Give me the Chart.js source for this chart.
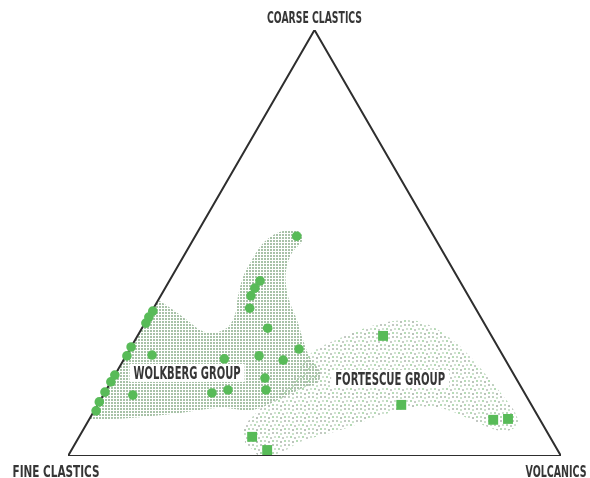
<!DOCTYPE html>
<html>
<head>
<meta charset="utf-8">
<script src="https://cdn.jsdelivr.net/npm/chart.js@4/dist/chart.umd.min.js"></script>
<style>
  html, body { margin: 0; padding: 0; background: #fff; }
</style>
</head>
<body>
<canvas id="ternary" width="590" height="478"></canvas>
<script>
// ternary diagram: coarse clastics / fine clastics / volcanics (percent)

const cornerNames = ["COARSE CLASTICS", "FINE CLASTICS", "VOLCANICS"];
const groupNames = ["WOLKBERG GROUP", "FORTESCUE GROUP"];

// Wolkberg Group samples (circles)
const wolkCoarse = [51.6, 41.1, 39.4, 37.6, 34.7, 30.0, 25.1, 34.0, 32.6, 31.2, 25.6, 23.5, 23.7,
                    22.8, 23.5, 22.5, 19.0, 17.4, 15.0, 12.7, 10.6, 14.3, 14.8, 15.5, 18.3, 15.5];
const wolkFine   = [27.8, 40.5, 42.4, 44.1, 45.8, 44.5, 40.6, 65.8, 67.3, 68.6, 74.4, 76.3, 71.1,
                    56.9, 49.5, 45.1, 81.0, 82.6, 85.0, 87.3, 89.0, 79.7, 63.4, 59.8, 50.9, 52.1];
const wolkVolc   = [20.6, 18.4, 18.2, 18.3, 19.5, 25.5, 34.3, 0.2, 0.1, 0.2, 0.0, 0.2, 5.2,
                    20.3, 27.0, 32.4, 0.0, 0.0, 0.0, 0.0, 0.4, 6.0, 21.8, 24.7, 30.8, 32.4];

// Fortescue Group samples (squares)
const fortCoarse = [28.2, 12.0, 8.5, 8.7, 4.5, 1.4];
const fortFine   = [22.0, 26.4, 9.5, 6.4, 60.4, 58.9];
const fortVolc   = [49.8, 61.6, 82.0, 84.9, 35.1, 39.7];

// field outlines (coarse %, volcanics %)
const wolkFieldCoarse = [36.6, 34.3, 31.9, 29.6, 28.9, 30.1, 33.1, 37.3, 42.0, 46.0, 49.1, 51.4, 52.8, 52.8, 50.9, 47.7,
                         43.7, 39.7, 35.9, 31.9, 27.2, 23.0, 19.7, 17.4, 16.0, 13.6, 10.8, 11.3, 10.1, 8.9, 8.5];
const wolkFieldVolc   = [0, 4.2, 8.2, 12.0, 15.0, 17.2, 17.3, 15.8, 14.5, 14.3, 14.4, 15.3, 17.2, 20.2, 22.2, 21.6,
                         22.4, 24.4, 27.1, 30.5, 34.1, 37.6, 41.3, 42.0, 39.7, 36.6, 32.1, 25.2, 17.7, 8.1, 0];
const fortFieldCoarse = [3.1, 6.6, 10.3, 15.0, 19.7, 24.4, 27.0, 29.6, 31.2, 31.9, 31.0, 28.2, 24.2, 18.8, 14.1,
                         10.6, 7.5, 5.9, 6.6, 8.9, 11.3, 11.5, 10.8, 8.9, 6.8, 5.2, 3.3, 0.7, 0.2];
const fortFieldVolc   = [34.4, 32.4, 33.2, 35.1, 36.8, 37.3, 40.3, 44.4, 48.3, 52.8, 57.3, 62.8, 68.8, 75.6, 81.2,
                         85.2, 87.5, 86.1, 82.3, 76.5, 69.8, 65.0, 61.9, 57.4, 53.8, 50.0, 45.4, 42.7, 38.4];

// triangle frame: apex, fine corner, volcanic corner, back to apex
const frameCoarse = [100, 0, 0, 100];
const frameVolc   = [0, 0, 100, 0];

// ------------------------------------------------------------
const H = Math.sqrt(3) / 2;
function toXY(c, v) {
  return { x: v / 100 + c / 200, y: (c / 100) * H };
}
function pts(cArr, vArr) {
  return cArr.map((c, i) => toXY(c, vArr[i]));
}

const canvas = document.getElementById("ternary");
const ctx = canvas.getContext("2d");

// dense halftone for Wolkberg field
function densePattern() {
  const t = document.createElement("canvas");
  t.width = 3; t.height = 3;
  const g = t.getContext("2d");
  g.fillStyle = "rgb(168,194,168)";
  g.fillRect(0, 0, 2, 2);
  return ctx.createPattern(t, "repeat");
}

// loose stipple for Fortescue field
function sparsePattern() {
  const t = document.createElement("canvas");
  t.width = 12; t.height = 12;
  const g = t.getContext("2d");
  const dots = [
    [1, 1, "rgb(110,150,110)"], [5, 2, "rgb(140,190,140)"], [9, 1, "rgb(120,130,120)"],
    [3, 5, "rgb(90,170,90)"],   [7, 6, "rgb(130,140,130)"], [11, 5, "rgb(150,190,150)"],
    [1, 9, "rgb(130,170,130)"], [5, 10, "rgb(100,120,100)"], [9, 9, "rgb(90,175,90)"]
  ];
  dots.forEach(([x, y, col]) => {
    g.fillStyle = col;
    g.beginPath();
    g.arc(x, y, 0.8, 0, Math.PI * 2);
    g.fill();
  });
  return ctx.createPattern(t, "repeat");
}

const inkColor = "#363636";
const labelFont = '"Liberation Sans Narrow", "DejaVu Sans Condensed", "Roboto", sans-serif';

function drawFitted(g, text, cx, baseY, width, size) {
  g.save();
  g.font = "bold " + size + "px " + labelFont;
  const w = g.measureText(text).width;
  g.translate(cx, baseY);
  g.scale(width / w, 1);
  g.textAlign = "center";
  g.textBaseline = "alphabetic";
  g.fillStyle = inkColor;
  g.fillText(text, 0, 0);
  g.restore();
}

const labelPlugin = {
  id: "ternaryLabels",
  afterDatasetsDraw(chart) {
    const g = chart.ctx;
    const xs = chart.scales.x, ys = chart.scales.y;
    const px = p => ({ x: xs.getPixelForValue(p.x), y: ys.getPixelForValue(p.y) });

    const apex = px(toXY(100, 0));
    const fine = px(toXY(0, 0));
    const volc = px(toXY(0, 100));
    drawFitted(g, cornerNames[0], apex.x, apex.y - 7, 95, 16);
    drawFitted(g, cornerNames[1], fine.x - 12, fine.y + 21, 87, 16);
    drawFitted(g, cornerNames[2], volc.x - 5, volc.y + 21, 61, 16);

    // group names on white boxes
    const groups = [
      { at: toXY(19.5, 14.4), w: 107 },
      { at: toXY(18.1, 56.3), w: 110 }
    ];
    groups.forEach((gr, i) => {
      const p = px(gr.at);
      g.fillStyle = "#fff";
      g.fillRect(p.x - gr.w / 2 - 4, p.y - 9, gr.w + 8, 18);
      drawFitted(g, groupNames[i], p.x, p.y + 6, gr.w, 17);
    });
  }
};

new Chart(ctx, {
  type: "scatter",
  data: {
    datasets: [
      {
        label: "Wolkberg samples",
        data: pts(wolkCoarse, wolkVolc),
        pointStyle: "circle",
        pointRadius: 4.8,
        backgroundColor: "#58bb58",
        borderWidth: 0,
        order: 0
      },
      {
        label: "Fortescue samples",
        data: pts(fortCoarse, fortVolc),
        pointStyle: "rect",
        pointRadius: 7,
        backgroundColor: "#58bb58",
        borderWidth: 0,
        order: 0
      },
      {
        label: "frame",
        data: pts(frameCoarse, frameVolc),
        showLine: true,
        borderColor: "#2e2e2e",
        borderWidth: 2,
        pointRadius: 0,
        fill: false,
        order: 1
      },
      {
        label: "Wolkberg field",
        data: pts(wolkFieldCoarse, wolkFieldVolc),
        showLine: true,
        borderWidth: 0,
        borderColor: "rgba(0,0,0,0)",
        backgroundColor: densePattern(),
        pointRadius: 0,
        tension: 0.35,
        fill: "shape",
        order: 2
      },
      {
        label: "Fortescue field",
        data: pts(fortFieldCoarse, fortFieldVolc),
        showLine: true,
        borderWidth: 0,
        borderColor: "rgba(0,0,0,0)",
        backgroundColor: sparsePattern(),
        pointRadius: 0,
        tension: 0.35,
        fill: "shape",
        order: 3
      }
    ]
  },
  options: {
    responsive: false,
    animation: false,
    layout: { padding: { left: 68, right: 29, top: 30, bottom: 22 } },
    scales: {
      x: { type: "linear", min: 0, max: 1, display: false },
      y: { type: "linear", min: 0, max: H, display: false }
    },
    plugins: {
      legend: { display: false },
      tooltip: { enabled: false }
    },
    elements: { line: { capBezierPoints: false } }
  },
  plugins: [labelPlugin]
});
</script>
</body>
</html>
